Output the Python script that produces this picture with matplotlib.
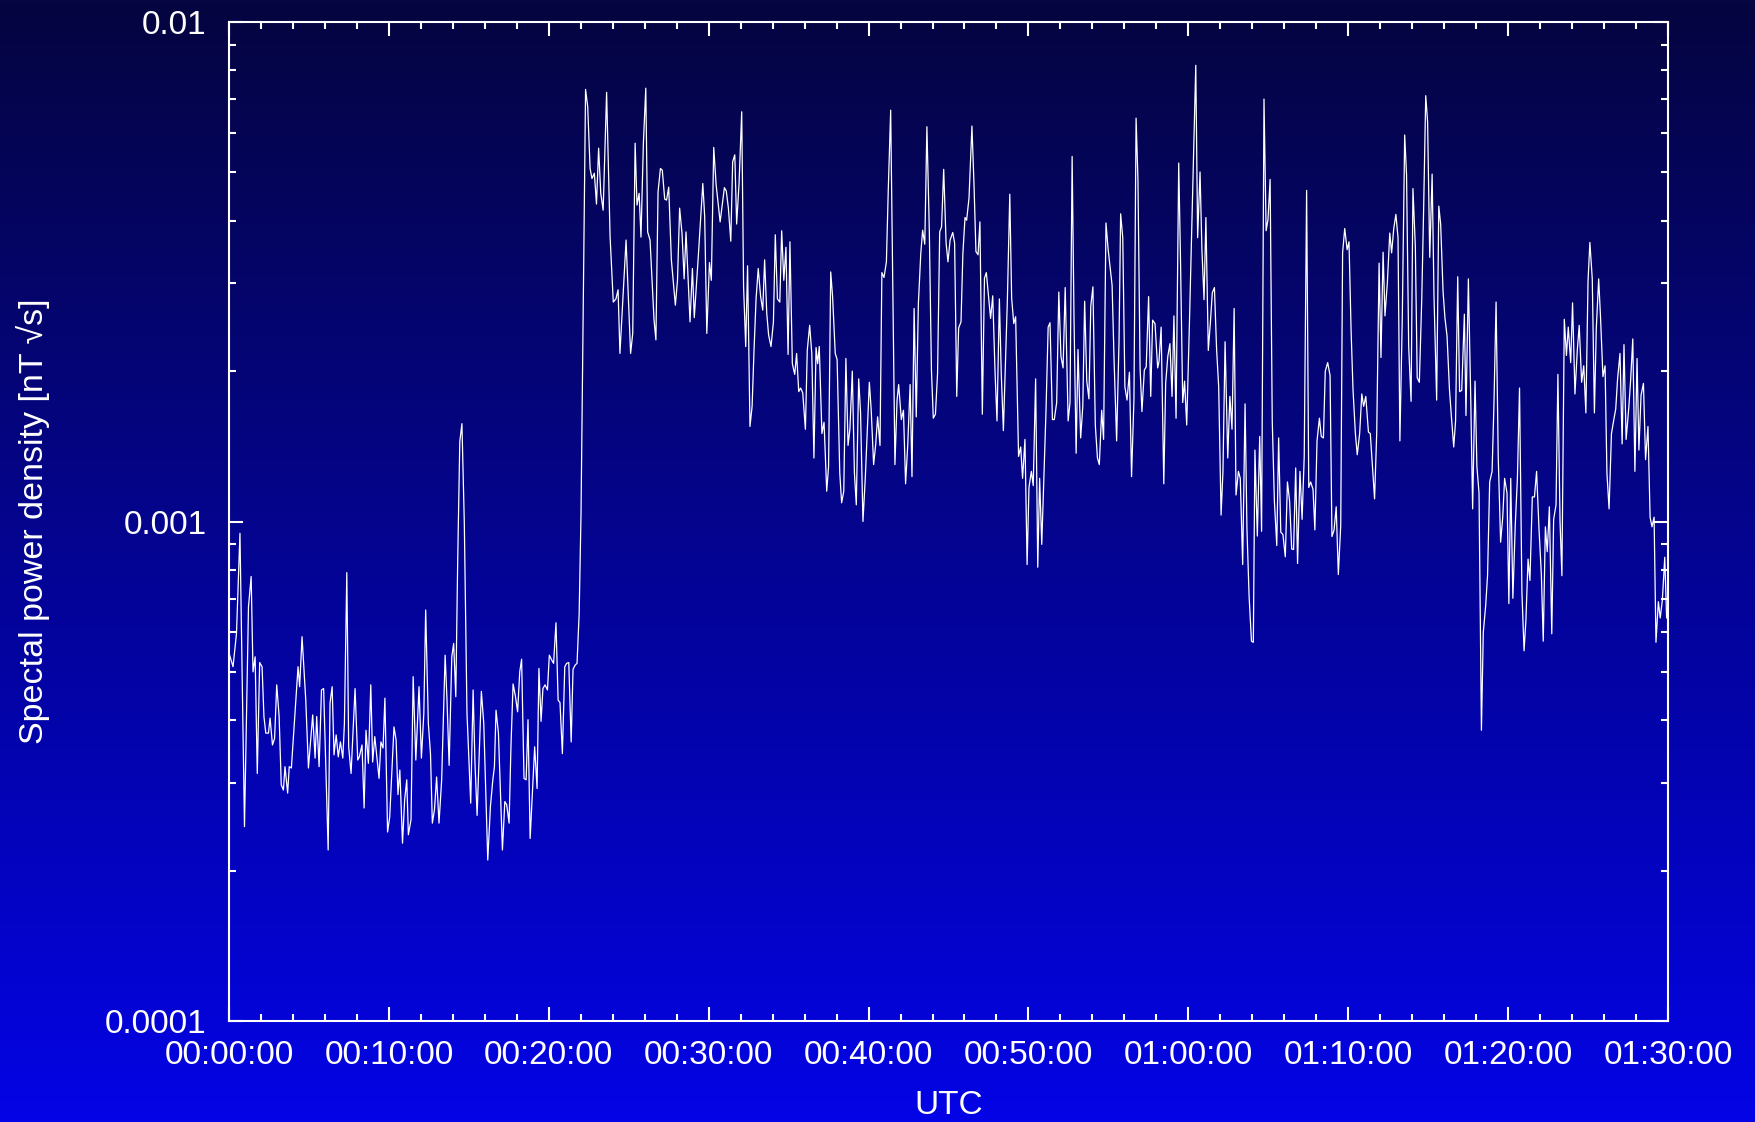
import numpy as np
import matplotlib
matplotlib.use("Agg")
import matplotlib.pyplot as plt
from matplotlib.colors import LinearSegmentedColormap
from matplotlib.ticker import MultipleLocator, FuncFormatter, FixedLocator, LogLocator, NullFormatter

# sample times in seconds after 00:00:00 UTC
t_sec = [
    0, 15, 28, 41, 58, 73, 83, 90, 98, 106, 115, 124, 131, 138, 148, 154, 163, 171, 179, 188,
    196, 204, 210, 220, 226, 234, 259, 265, 274, 288, 298, 314, 323, 329, 338, 347, 355, 372, 379, 387,
    394, 402, 410, 418, 427, 433, 442, 449, 458, 473, 483, 489, 499, 507, 514, 523, 532, 539, 547, 554,
    563, 570, 578, 585, 595, 603, 619, 627, 634, 641, 651, 659, 667, 673,
    683, 691, 701, 713, 722, 731, 738, 748, 756, 763, 771, 779, 788, 798, 811, 818, 826, 836, 843, 851,
    858, 866, 874, 883, 893, 907, 916, 923, 931, 947, 956, 971, 981, 990, 996, 1002, 1011, 1026, 1035, 1042,
    1051, 1058, 1066, 1075, 1083, 1091, 1098, 1107, 1115, 1122, 1130, 1147, 1156, 1163, 1171, 1178, 1186, 1195, 1202, 1211,
    1218, 1227, 1235, 1242, 1251, 1260, 1267, 1275, 1284, 1291, 1299, 1306, 1314, 1321,
    1338, 1346, 1355, 1362, 1371, 1379, 1387, 1395, 1404, 1417, 1430, 1442, 1452, 1460, 1467, 1490, 1507, 1515, 1524, 1531,
    1539, 1546, 1555, 1564, 1571, 1580, 1595, 1602, 1610, 1619, 1626, 1635, 1642, 1650, 1660, 1675, 1683, 1691, 1700, 1708,
    1715, 1730, 1739, 1746, 1761, 1778, 1785, 1793, 1803, 1810, 1819, 1828, 1843, 1859, 1866, 1874, 1883, 1890, 1898, 1905,
    1914, 1924, 1931, 1939, 1946, 1955, 1963, 1970, 1978, 1986, 1995, 2003, 2010, 2018, 2025, 2034, 2043, 2050, 2058, 2067,
    2074, 2082, 2090, 2098, 2105, 2114, 2123, 2130, 2138, 2145, 2153, 2163, 2170, 2179, 2187, 2195, 2203, 2209, 2215,
    2225, 2233, 2243, 2250, 2258, 2265, 2275, 2282, 2292, 2299, 2307, 2315, 2323, 2330, 2339, 2347, 2354, 2363, 2370, 2379,
    2388, 2403, 2410, 2419, 2427, 2434, 2443, 2450, 2458, 2467, 2474, 2483, 2492, 2499, 2507, 2513, 2523, 2531, 2539, 2547,
    2556, 2563, 2571, 2579, 2587, 2596, 2603, 2611, 2619, 2628, 2636, 2643, 2651, 2659, 2667, 2674, 2682, 2691, 2698, 2706,
    2716, 2723, 2731, 2738, 2747, 2754, 2762, 2768, 2777, 2788, 2796, 2803, 2811, 2818, 2827, 2835, 2842, 2851, 2858, 2866,
    2875, 2882, 2891, 2898, 2906, 2921, 2930, 2937, 2945, 2952, 2963, 2971, 2978, 2987, 2995, 3002, 3011, 3018, 3027, 3035,
    3042, 3050, 3066, 3074, 3081, 3090, 3097, 3106, 3114,
    3122, 3130, 3138, 3149, 3156, 3164, 3171, 3179, 3186, 3196, 3204, 3211, 3219, 3227, 3234, 3242, 3251, 3259, 3266, 3275,
    3282, 3291, 3299, 3314, 3321, 3331, 3340, 3346, 3354, 3362, 3370, 3379, 3387, 3396, 3404, 3411, 3419, 3426, 3435, 3442,
    3451, 3459, 3466, 3475, 3485, 3490, 3498, 3508, 3515, 3523, 3531, 3539, 3546, 3554, 3564, 3571, 3579, 3586, 3594, 3604,
    3619, 3628, 3635, 3644, 3651, 3659, 3666, 3675, 3683, 3690, 3698, 3706, 3714, 3723, 3730, 3738, 3748, 3756, 3764, 3772,
    3779, 3788, 3795, 3804, 3813, 3820, 3828, 3837, 3844, 3850, 3859, 3868,
    3875, 3884, 3892, 3899, 3907, 3915, 3923, 3932, 3939, 3947, 3955, 3964, 3972, 3980, 3988, 3995, 4003, 4010, 4019, 4027,
    4035, 4044, 4052, 4059, 4068, 4075, 4083, 4092, 4099, 4107, 4114, 4123, 4132, 4139, 4147, 4155, 4163, 4172, 4179, 4187,
    4196, 4203, 4211, 4218, 4227, 4234, 4243, 4251, 4258, 4266, 4276, 4283, 4292, 4299, 4307, 4316, 4323, 4331, 4338, 4347,
    4356, 4363, 4371, 4379, 4387, 4394, 4403, 4412, 4419, 4427, 4436, 4443, 4452, 4459, 4467, 4476, 4483, 4491, 4498, 4506,
    4515, 4522, 4532, 4540, 4547, 4556, 4563, 4571, 4580, 4587, 4596, 4603, 4611, 4618, 4626, 4636,
    4642, 4651, 4660, 4667, 4676, 4683, 4691, 4700, 4707, 4716, 4723, 4731, 4740, 4747, 4755, 4763, 4772, 4780, 4787, 4796,
    4803, 4810, 4818, 4827, 4835, 4843, 4852, 4860, 4867, 4875, 4882, 4891, 4899, 4907, 4916, 4925, 4932, 4940, 4947, 4955,
    4964, 4971, 4980, 4987, 4995, 5002, 5011, 5019, 5026, 5035, 5042, 5051, 5060, 5067, 5076, 5084, 5092, 5100, 5107, 5116,
    5124, 5131, 5140, 5147, 5156, 5164, 5171, 5179, 5188, 5196, 5204, 5211, 5220, 5228, 5235, 5243, 5253, 5260, 5268, 5276,
    5284, 5291, 5299, 5308, 5316, 5325, 5333, 5340, 5348, 5355, 5364, 5371, 5379, 5388, 5395, 5400,
]

# spectral power density, in units of 1e-4 nT/sqrt(Hz)
psd_1e4 = [
    5.45, 5.12, 5.97, 9.47, 2.45, 6.75, 7.76, 5.00, 5.36, 3.13, 5.22, 5.12, 4.07, 3.77, 3.77, 4.04, 3.57, 3.68, 4.71, 4.07,
    2.97, 2.90, 3.23, 2.86, 3.23, 3.21, 5.12, 4.67, 5.88, 4.39, 3.21, 4.10, 3.36, 4.07, 3.23, 4.60, 4.63, 2.20, 4.33, 4.67,
    3.41, 3.74, 3.38, 3.62, 3.36, 3.94, 7.90, 3.54, 3.13, 4.63, 3.33, 3.38, 3.57, 2.67, 3.82, 3.28, 4.71, 3.30, 3.71, 3.41,
    3.06, 3.62, 3.52, 4.43, 2.39, 2.56, 3.88, 3.65, 2.84, 3.18, 2.27, 2.77, 3.04, 2.36,
    2.53, 4.89, 3.33, 4.67, 3.36, 4.13, 6.65, 3.94, 3.43, 2.49, 2.65, 3.08, 2.49, 3.04, 5.40, 4.39, 3.25, 5.36, 5.70, 4.46,
    8.25, 14.45, 15.7, 9.92, 4.13, 2.73, 4.60, 3.28, 2.58, 4.57, 3.94, 2.10, 2.69, 3.04, 3.23, 4.19, 3.77, 2.20, 2.75, 2.71,
    2.49, 3.54, 4.73, 4.46, 4.16, 5.00, 5.30, 3.06, 3.04, 4.01, 2.32, 3.54, 2.92, 5.08, 3.98, 4.63, 4.71, 4.60, 5.40, 5.28,
    5.20, 6.27, 4.39, 4.34, 3.43, 5.12, 5.20, 5.22, 3.62, 5.06, 5.16, 5.20, 6.55, 10.4,
    73.3, 67.7, 50.9, 48.6, 49.8, 43.2, 55.9, 45.4, 42.0, 72.3, 37.2, 27.5, 27.9, 29.1, 21.7, 36.6, 21.7, 23.8, 57.2, 43.0,
    45.4, 37.1, 57.2, 73.7, 38.0, 36.6, 25.3, 23.1, 45.7, 50.9, 50.5, 44.2, 44.0, 46.7, 33.4, 27.1, 30.4, 42.4, 37.7, 30.6,
    38.0, 25.1, 32.1, 25.6, 33.9, 47.5, 40.8, 23.8, 33.0, 30.4, 56.1, 47.2, 39.8, 46.6, 45.9, 42.4, 36.4, 52.5, 54.2, 39.4,
    47.5, 66.1, 29.5, 22.4, 32.5, 15.5, 17.0, 21.9, 28.0, 32.1, 28.2, 26.5, 33.4, 26.1, 23.6, 22.4, 25.1, 37.5, 27.9, 27.5,
    38.2, 30.4, 35.4, 21.6, 36.3, 20.7, 19.7, 21.7, 18.2, 18.5, 18.1, 15.3, 22.0, 24.7, 21.7, 13.4, 22.3, 20.7, 22.4,
    15.0, 15.8, 11.5, 12.9, 31.6, 28.2, 21.7, 21.1, 12.5, 10.9, 11.5, 21.2, 14.2, 15.3, 20.0, 12.5, 10.8, 19.3, 16.5, 10.0,
    12.3, 19.0, 16.7, 13.0, 14.3, 16.2, 14.2, 31.5, 30.8, 33.1, 46.1, 66.6, 26.9, 13.0, 17.5, 18.8, 16.0, 16.7, 11.9, 14.2,
    18.8, 12.3, 26.7, 16.2, 27.3, 34.4, 38.3, 35.9, 61.7, 38.3, 20.1, 16.1, 16.4, 19.8, 38.0, 38.9, 50.7, 36.1, 33.1, 36.6,
    37.9, 36.1, 17.8, 24.4, 25.1, 34.4, 40.6, 40.1, 44.4, 61.9, 46.8, 34.7, 34.2, 39.8, 16.4, 30.7, 31.5, 28.0, 25.5, 28.3,
    19.7, 15.9, 27.9, 19.8, 15.2, 27.8, 45.2, 28.0, 24.9, 25.7, 13.5, 14.1, 12.2, 14.6, 8.2, 11.7, 12.6, 11.8, 19.3, 8.1,
    12.2, 9.0, 16.7, 24.5, 25.0, 16.0, 16.0, 17.3, 28.8,
    21.4, 20.3, 29.4, 15.9, 17.3, 53.8, 25.6, 13.7, 22.1, 14.7, 17.0, 27.6, 19.1, 17.6, 27.0, 29.5, 15.6, 13.4, 13.0, 16.7,
    14.6, 39.6, 35.1, 29.7, 21.4, 14.5, 23.0, 41.3, 37.0, 18.6, 17.5, 19.9, 12.3, 17.6, 64.2, 48.3, 20.3, 16.6, 20.1, 20.4,
    28.2, 17.8, 25.3, 24.9, 20.3, 20.9, 24.5, 11.9, 18.9, 21.4, 22.7, 17.8, 25.8, 16.1, 52.2, 32.7, 17.3, 19.1, 15.6, 24.7,
    51.8, 81.9, 37.0, 50.1, 35.1, 27.8, 40.6, 22.0, 25.1, 28.7, 29.4, 22.2, 18.6, 10.3, 12.6, 22.9, 13.4, 17.8, 15.3, 26.7,
    11.3, 12.6, 12.2, 8.2, 17.2, 9.7, 7.1, 5.76, 5.73, 13.9, 9.35, 14.8,
    9.56, 70.1, 38.2, 40.2, 48.4, 15.9, 11.0, 8.95, 14.7, 9.52, 9.42, 8.50, 12.0, 11.0, 8.81, 8.79, 12.8, 8.24, 12.6, 10.1,
    13.5, 46.0, 11.7, 12.0, 11.6, 9.62, 14.5, 16.1, 14.8, 14.7, 20.0, 20.8, 19.6, 9.33, 9.62, 10.7, 7.83, 9.82, 34.5, 38.6,
    35.0, 36.3, 24.0, 18.4, 15.0, 13.6, 15.0, 18.0, 17.0, 17.8, 15.1, 15.0, 12.7, 11.1, 15.0, 32.9, 21.3, 34.6, 25.8, 30.1,
    37.8, 34.5, 38.6, 41.2, 37.0, 14.5, 25.6, 59.4, 49.4, 22.4, 17.4, 46.4, 35.5, 19.4, 19.0, 27.8, 41.9, 71.2, 63.2, 33.8,
    49.6, 28.3, 17.5, 42.8, 39.4, 28.9, 25.6, 23.5, 18.4, 16.3, 14.1, 15.9, 30.9, 18.2, 18.3, 26.0,
    16.3, 30.6, 17.5, 10.6, 19.1, 12.9, 11.4, 3.82, 6.00, 6.79, 7.81, 12.0, 12.6, 17.2, 27.5, 13.5, 9.09, 10.2, 12.2, 11.4,
    6.85, 12.2, 7.02, 9.84, 12.2, 18.5, 7.20, 5.51, 6.36, 8.41, 7.62, 11.2, 11.2, 12.6, 9.68, 7.81, 5.76, 9.76, 8.70, 10.7,
    5.96, 10.1, 10.8, 19.7, 10.0, 7.79, 25.4, 21.5, 24.5, 20.8, 27.4, 18.0, 22.1, 24.7, 19.0, 20.5, 16.5, 30.2, 36.2, 30.6,
    16.5, 24.3, 30.6, 25.6, 19.5, 20.5, 12.5, 10.6, 15.0, 15.9, 16.8, 19.3, 21.7, 14.3, 22.6, 14.6, 16.9, 19.2, 23.2, 12.6,
    21.2, 13.9, 17.9, 18.9, 13.3, 15.5, 10.2, 9.76, 10.2, 5.73, 6.91, 6.41, 6.96, 8.48, 6.41, 6.6,
]

y_ticks = [1e-4, 1e-3, 1e-2]
y_tick_labels = ["0.0001", "0.001", "0.01"]


def hms(sec, pos=None):
    sec = int(round(sec))
    return "%02d:%02d:%02d" % (sec // 3600, (sec % 3600) // 60, sec % 60)


plt.rcParams["font.family"] = ["Liberation Sans", "DejaVu Sans"]

fig = plt.figure(figsize=(17.55, 11.22), dpi=100)

# vertical gradient background, dark navy on top to bright blue at the bottom
bg = fig.add_axes([0, 0, 1, 1], zorder=-10)
grad = np.linspace(0, 1, 256).reshape(-1, 1)
cmap = LinearSegmentedColormap.from_list("bg", ["#050540", "#0303e6"])
bg.imshow(grad, aspect="auto", cmap=cmap, extent=[0, 1, 0, 1], origin="upper")
bg.set_axis_off()

ax = fig.add_axes([0.1305, 0.09, 0.8199, 0.8904])
ax.patch.set_alpha(0)

psd = np.array(psd_1e4) * 1e-4
ax.plot(t_sec, psd, color="white", lw=0.9)

ax.set_yscale("log")
ax.set_ylim(1e-4, 1e-2)
ax.set_xlim(0, 5400)

ax.xaxis.set_major_locator(MultipleLocator(600))
ax.xaxis.set_minor_locator(MultipleLocator(120))
ax.xaxis.set_major_formatter(FuncFormatter(hms))
ax.yaxis.set_major_locator(FixedLocator(y_ticks))
ax.set_yticklabels(y_tick_labels)
ax.yaxis.set_minor_locator(LogLocator(base=10, subs=np.arange(2, 10)))
ax.yaxis.set_minor_formatter(NullFormatter())

for s in ax.spines.values():
    s.set_color("white")
    s.set_linewidth(1.5)

ax.tick_params(which="both", direction="in", top=True, right=True, colors="white", width=1.5)
ax.tick_params(which="major", length=10, labelsize=24)
ax.tick_params(which="minor", length=5)
ax.tick_params(axis="y", pad=16)
ax.tick_params(axis="x", pad=14)

ax.set_xlabel("UTC", color="white", fontsize=24, va="center")
ax.xaxis.set_label_coords(0.5, -0.085)
ax.set_ylabel("Spectal power density [nT \u221as]", color="white", fontsize=24.5, va="center")
ax.yaxis.set_label_coords(-0.136, 0.5)

fig.savefig("out.png", dpi=100)
